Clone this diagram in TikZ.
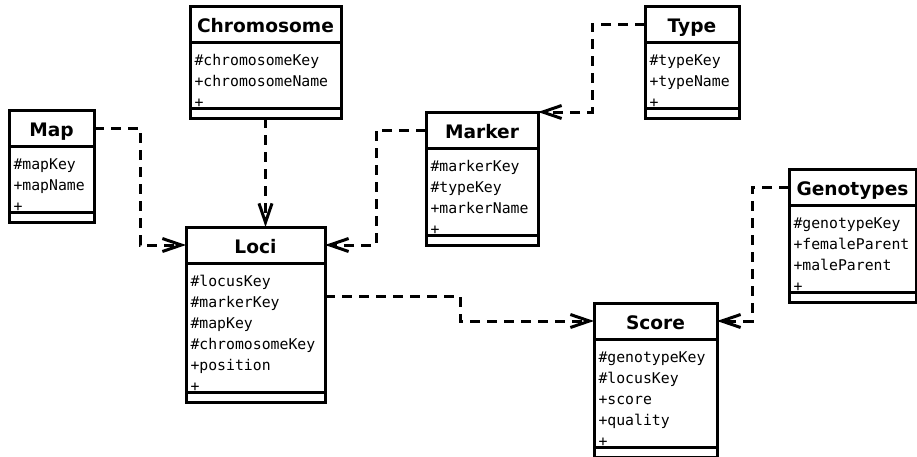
\documentclass[tikz,border=0pt]{standalone}
\usepackage{fontspec}
\setmainfont{DejaVu Sans}
\setmonofont{DejaVu Sans Mono}
\usetikzlibrary{arrows.meta,positioning}

\begin{document}
\begin{tikzpicture}[x=1pt,y=-1pt,
every node/.style={draw,line width=3pt,outer sep=0pt},
head/.style={anchor=north west,inner ysep=0pt,text height=26pt,text depth=10pt,
  font=\fontsize{18.6}{20}\selectfont\bfseries},
attrs/.style={below=0pt of #1,inner xsep=4.5pt,inner ysep=0.5pt,align=left,text height=23pt,
  font=\fontsize{14.8}{21}\selectfont\ttfamily},
ops/.style={below=0pt of #1,inner sep=0pt,minimum height=10pt},
dep/.style={line width=3pt,dash pattern=on 10pt off 7pt,-{Straight Barb[length=19pt,width=13pt]}}]
\useasboundingbox (0,0) rectangle (917,456);
\node[head,minimum width=85pt] (map) at (9,110) {Map};
\node[attrs=map,text width=76pt] (map-a) {\#mapKey\\+mapName\\+};
\node[ops=map-a,minimum width=85pt] (map-o) {};
\node[head,minimum width=151pt] (chrom) at (190,6) {Chromosome};
\node[attrs=chrom,text width=142pt] (chrom-a) {\#chromosomeKey\\+chromosomeName\\+};
\node[ops=chrom-a,minimum width=151pt] (chrom-o) {};
\node[head,minimum width=94pt] (type) at (645,6) {Type};
\node[attrs=type,text width=85pt] (type-a) {\#typeKey\\+typeName\\+};
\node[ops=type-a,minimum width=94pt] (type-o) {};
\node[head,minimum width=112pt] (marker) at (426,112) {Marker};
\node[attrs=marker,text width=103pt] (marker-a) {\#markerKey\\\#typeKey\\+markerName\\+};
\node[ops=marker-a,minimum width=112pt] (marker-o) {};
\node[head,minimum width=139pt] (loci) at (186,227) {Loci};
\node[attrs=loci,text width=130pt] (loci-a) {\#locusKey\\\#markerKey\\\#mapKey\\\#chromosomeKey\\+position\\+};
\node[ops=loci-a,minimum width=139pt] (loci-o) {};
\node[head,minimum width=123pt] (score) at (594,303) {Score};
\node[attrs=score,text width=114pt] (score-a) {\#genotypeKey\\\#locusKey\\+score\\+quality\\+};
\node[ops=score-a,minimum width=123pt] (score-o) {};
\node[head,minimum width=127pt] (geno) at (789,169) {Genotypes};
\node[attrs=geno,text width=118pt] (geno-a) {\#genotypeKey\\+femaleParent\\+maleParent\\+};
\node[ops=geno-a,minimum width=127pt] (geno-o) {};
\draw[dep] (map.east) -- ++(46,0) |- (loci.west);
\draw[dep] (chrom-o.south) -- (chrom-o.south |- loci.north);
\draw[dep] (marker.west) -- ++(-50,0) |- (loci.east);
\draw[dep] (type.west) -- ++(-53,0) |- (marker.north east);
\draw[dep] ([yshift=-33pt]loci-a.north east) -- ++(135,0) |- (score.west);
\draw[dep] (geno.west) -- ++(-37,0) |- (score.east);
\end{tikzpicture}
\end{document}
